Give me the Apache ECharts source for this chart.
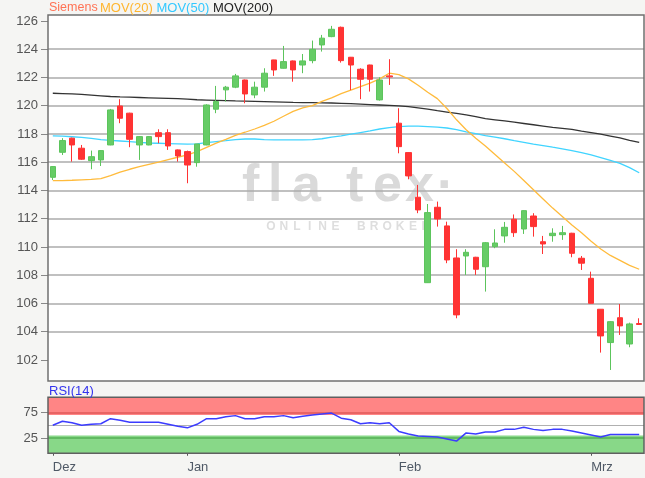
<!DOCTYPE html>
<html><head><meta charset="utf-8">
<script src="https://cdn.jsdelivr.net/npm/echarts@6/dist/echarts.min.js"></script>
<style>html,body{margin:0;padding:0;background:#f5f5f3}#c{width:645px;height:478px}</style>
</head><body><div id="c"></div>
<script>
const dates = [
 '2017-12-08','2017-12-11','2017-12-12','2017-12-13','2017-12-14','2017-12-15','2017-12-18','2017-12-19','2017-12-20','2017-12-21','2017-12-22','2017-12-27','2017-12-28','2017-12-29',
 '2018-01-02','2018-01-03','2018-01-04','2018-01-05','2018-01-08','2018-01-09','2018-01-10','2018-01-11','2018-01-12','2018-01-15','2018-01-16','2018-01-17','2018-01-18','2018-01-19','2018-01-22','2018-01-23','2018-01-24','2018-01-25','2018-01-26','2018-01-29','2018-01-30','2018-01-31',
 '2018-02-01','2018-02-02','2018-02-05','2018-02-06','2018-02-07','2018-02-08','2018-02-09','2018-02-12','2018-02-13','2018-02-14','2018-02-15','2018-02-16','2018-02-19','2018-02-20','2018-02-21','2018-02-22','2018-02-23','2018-02-26','2018-02-27','2018-02-28',
 '2018-03-01','2018-03-02','2018-03-05','2018-03-06','2018-03-07','2018-03-08'];
const opens  = [114.93,116.70,117.70,116.99,116.11,116.16,117.22,119.98,119.47,117.22,117.22,118.09,118.09,116.87,116.75,115.97,117.22,119.75,121.12,121.31,121.82,120.76,121.31,123.24,122.65,123.17,122.88,123.19,124.30,124.89,125.55,123.43,122.58,122.88,120.41,122.11,118.76,116.68,113.52,107.47,112.81,111.49,109.22,109.36,109.27,108.60,110.02,110.78,111.96,111.27,112.19,110.37,110.80,110.87,110.97,109.20,107.78,105.59,103.23,104.99,103.13,104.58];
const closes = [115.69,117.53,117.22,116.21,116.39,116.82,119.70,119.11,117.62,117.81,117.81,117.81,117.15,116.44,115.80,117.29,120.05,120.29,121.31,122.11,120.83,121.31,122.30,122.53,123.12,122.53,123.17,123.99,124.78,125.41,123.19,122.88,121.87,121.87,121.82,122.04,117.10,115.03,112.62,112.43,111.98,109.08,105.19,109.62,108.42,110.30,110.28,111.39,111.01,112.57,111.44,110.21,110.97,111.01,109.55,108.85,106.01,103.70,104.71,104.41,104.55,104.51];
const lows   = [114.74,116.51,116.04,116.16,115.50,115.73,117.20,118.76,117.06,116.16,117.20,117.34,116.87,116.04,114.51,115.68,117.20,119.47,120.29,121.24,120.17,120.53,121.00,122.11,122.63,121.70,122.30,123.00,123.83,124.85,123.05,121.10,120.46,121.00,120.36,121.47,116.63,114.79,112.39,107.45,111.44,108.85,104.95,108.02,108.02,106.84,109.91,110.30,110.71,110.92,110.73,109.50,110.37,110.50,109.27,108.37,106.00,102.52,101.29,103.77,102.90,104.50];
const highs  = [115.73,117.70,117.74,117.22,116.82,116.85,119.77,120.46,119.50,117.85,117.85,118.33,118.33,116.90,116.82,117.30,120.10,121.40,121.40,122.25,121.85,121.70,122.65,123.25,124.23,123.20,123.66,124.61,125.01,125.65,125.60,123.45,122.65,122.90,122.01,123.29,119.82,116.70,114.39,113.04,113.21,111.79,109.84,109.84,109.30,110.35,111.25,111.77,112.30,112.60,112.39,110.78,111.32,111.49,111.00,109.36,108.25,105.60,104.75,105.96,104.64,104.95];
const mov20  = [114.69,114.70,114.72,114.75,114.78,114.84,115.05,115.30,115.50,115.68,115.85,116.00,116.18,116.35,116.51,116.75,117.05,117.35,117.62,117.90,118.12,118.35,118.60,118.90,119.25,119.60,119.85,120.00,120.30,120.55,120.85,121.10,121.35,121.60,121.90,122.30,122.20,121.90,121.45,120.95,120.50,119.80,119.00,118.30,117.70,117.15,116.55,115.95,115.35,114.70,114.05,113.40,112.75,112.15,111.55,111.00,110.40,109.85,109.40,109.05,108.70,108.42];
const mov50  = [117.86,117.84,117.80,117.75,117.68,117.60,117.54,117.50,117.45,117.40,117.36,117.34,117.32,117.30,117.28,117.30,117.38,117.45,117.52,117.60,117.64,117.64,117.60,117.58,117.58,117.58,117.58,117.60,117.66,117.78,117.86,117.98,118.10,118.22,118.35,118.45,118.52,118.55,118.55,118.52,118.48,118.42,118.30,118.15,118.02,117.88,117.78,117.66,117.52,117.40,117.28,117.18,117.06,116.95,116.82,116.68,116.52,116.32,116.12,115.92,115.62,115.25];
const mov200 = [120.88,120.86,120.84,120.80,120.75,120.70,120.65,120.62,120.60,120.58,120.56,120.54,120.52,120.50,120.46,120.42,120.40,120.38,120.36,120.34,120.33,120.31,120.29,120.27,120.25,120.23,120.22,120.21,120.20,120.19,120.17,120.14,120.11,120.08,120.05,120.02,119.99,119.93,119.85,119.76,119.65,119.55,119.45,119.35,119.22,119.08,119.00,118.92,118.83,118.74,118.65,118.56,118.47,118.40,118.32,118.20,118.10,117.98,117.85,117.72,117.55,117.40];
const rsi14  = [50,58,55,50,52,53,63,60,56,56,56,56,52,48,45,52,63,63,67,69,63,63,67,67,69,65,68,70,72,74,64,61,53,55,53,55,38,33,29,28,27,23,19,35,33,37,37,42,42,46,42,40,42,42,39,35,31,27,32,32,32,32];
const priceTicks = [102,104,106,108,110,112,114,116,118,120,122,124,126];
const rsiTicks = [25,75];
const monthNames = {'12':'Dez','01':'Jan','02':'Feb','03':'Mrz'};

const FONT = '"Liberation Sans", Arial, sans-serif';
function isMonthStart(i){ return i===0 || dates[i].slice(5,7)!==dates[i-1].slice(5,7); }

const chart = echarts.init(document.getElementById('c'));
const candles = dates.map((d,i)=>[opens[i],closes[i],lows[i],highs[i]]);

const wmLetters = [['f',242],['l',268],['a',292],['t',346],['e',373],['x',405],['·',437]];
const wmSub = 'ONLINE BROKER';
function legendText(t, x, color, size){
  return {type:'text', z:50, style:{text:t, x:x, y:8, fill:color, font:size+'px '+FONT, verticalAlign:'middle', textVerticalAlign:'middle'}};
}
const graphics = [
  {type:'rect', z:-10, shape:{x:48,y:15,width:596,height:366}, style:{fill:'#ffffff'}},
  {type:'rect', z:-10, shape:{x:48,y:397.3,width:596,height:56}, style:{fill:'#ffffff'}},
  {type:'rect', z:50, shape:{x:48,y:15,width:596,height:366}, style:{fill:'none',stroke:'#707070',lineWidth:1.5}},
  {type:'rect', z:50, shape:{x:48,y:397.3,width:596,height:56}, style:{fill:'none',stroke:'#606060',lineWidth:1.5}},
  legendText('Siemens', 49, '#ff7355', 12.5),
  legendText('MOV(20)', 100, '#ffb52e', 13),
  legendText('MOV(50)', 156.5, '#33c8ff', 13),
  legendText('MOV(200)', 213, '#222222', 13),
  {type:'text', z:50, style:{text:'RSI(14)', x:49, y:391, fill:'#3333ee', font:'13px '+FONT, verticalAlign:'middle', textVerticalAlign:'middle'}}
];
wmLetters.forEach(([ch,x])=>graphics.push({type:'text', z:-5, style:{text:ch, x:x, y:213, fill:'#dadada', font:'bold 52px '+FONT, verticalAlign:'bottom', textVerticalAlign:'bottom'}}));
wmSub.split('').forEach((ch,i)=>graphics.push({type:'text', z:-5, style:{text:ch, x:271+i*12.9, y:227, fill:'#dedede', font:'bold 12px '+FONT, align:'center', textAlign:'center', verticalAlign:'middle', textVerticalAlign:'middle'}}));

chart.setOption({
  animation:false,
  backgroundColor:'#f5f5f3',
  graphic:{elements:graphics},
  grid:[
    {left:48, top:15, width:596, height:373.2, show:false},
    {left:48, top:397.3, width:596, height:56, show:false}
  ],
  xAxis:[
    {type:'category', data:dates, gridIndex:0, boundaryGap:true, show:false},
    {type:'category', data:dates, gridIndex:1, boundaryGap:true,
     axisLine:{show:false},
     axisTick:{show:true, alignWithLabel:true, interval:(i)=>isMonthStart(i), length:5, lineStyle:{color:'#555'}},
     axisLabel:{interval:(i)=>isMonthStart(i), formatter:(v)=>monthNames[v.slice(5,7)], align:'left', margin:8, color:'#4f5966', fontSize:13, fontFamily:FONT},
     splitLine:{show:false}}
  ],
  yAxis:[
    {type:'value', gridIndex:0, min:100, max:126.42, interval:2,
     axisLine:{show:false},
     axisTick:{show:true, length:7, customValues:priceTicks, lineStyle:{color:'#888'}},
     axisLabel:{customValues:priceTicks, margin:10, color:'#555', fontSize:13, fontFamily:FONT,
       formatter:(v)=> (v>=101 && v<=126.01 && Math.abs(v-Math.round(v))<1e-6) ? String(Math.round(v)) : ''},
     splitLine:{show:true, showMinLine:false, showMaxLine:false, lineStyle:{color:'#ababab', width:1.5}}},
    {type:'value', gridIndex:1, min:-5, max:105,
     axisLine:{show:false},
     axisTick:{show:true, length:7, customValues:rsiTicks, lineStyle:{color:'#888'}},
     axisLabel:{customValues:rsiTicks, margin:10, color:'#555', fontSize:13, fontFamily:FONT},
     splitLine:{show:false}}
  ],
  series:[
    {name:'MOV(200)', type:'line', xAxisIndex:0, yAxisIndex:0, data:mov200, showSymbol:false, z:2, lineStyle:{color:'#333333', width:1.3}},
    {name:'MOV(50)', type:'line', xAxisIndex:0, yAxisIndex:0, data:mov50, showSymbol:false, z:2, lineStyle:{color:'#40d4ff', width:1.3}},
    {name:'MOV(20)', type:'line', xAxisIndex:0, yAxisIndex:0, data:mov20, showSymbol:false, z:2, lineStyle:{color:'#ffbb3c', width:1.3}},
    {name:'Siemens', type:'candlestick', xAxisIndex:0, yAxisIndex:0, data:candles, barWidth:6, z:3,
     itemStyle:{color:'#66cc66', color0:'#ff3333', borderColor:'#5cc45c', borderColor0:'#ff3333', borderWidth:1}},
    {name:'RSI-Zonen', type:'line', xAxisIndex:1, yAxisIndex:1, data:rsi14, showSymbol:false, z:1, lineStyle:{width:0, opacity:0}, silent:true,
     markArea:{silent:true, data:[
       [{yAxis:70, itemStyle:{color:'#ff8585', opacity:1}},{yAxis:105}],
       [{yAxis:-5, itemStyle:{color:'#88d888', opacity:1}},{yAxis:30}]
     ]},
     markLine:{silent:true, symbol:'none', label:{show:false}, data:[
       {yAxis:75, lineStyle:{color:'#e05a5a', width:1.5, type:'solid'}},
       {yAxis:50, lineStyle:{color:'#b0b0b0', width:1.2, type:'solid'}},
       {yAxis:25, lineStyle:{color:'#55b055', width:1.5, type:'solid'}}
     ]}},
    {name:'RSI(14)', type:'line', xAxisIndex:1, yAxisIndex:1, data:rsi14, showSymbol:false, z:5, lineStyle:{color:'#3c3cff', width:1.5}}
  ]
});
</script></body></html>
